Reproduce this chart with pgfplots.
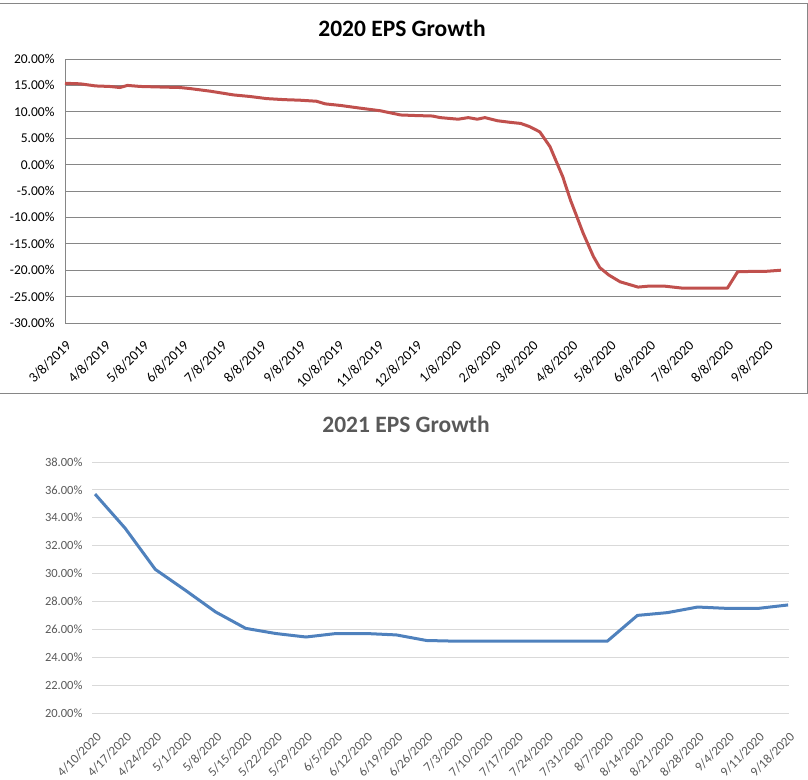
\documentclass[border=0pt]{standalone}
\usepackage{pgfplots}
\pgfplotsset{compat=1.18}
\usepackage{fontspec}
\setmainfont{Carlito}
\definecolor{redline}{HTML}{C0504D}
\definecolor{blueline}{HTML}{4F81BD}
\definecolor{darkgrid}{HTML}{868686}
\definecolor{lightgrid}{HTML}{D9D9D9}
\definecolor{txtgray}{HTML}{595959}
\begin{document}
\begin{tikzpicture}
\path[use as bounding box] (0,0) rectangle (808bp,-780bp);
\draw[darkgrid, line width=0.8bp] (-2bp,-3.5bp) rectangle (807bp,-393bp);
\node[anchor=base, font=\fontsize{23.5bp}{26bp}\selectfont\bfseries, text=black] at (402bp,-36bp) {2020 EPS Growth};
\node[anchor=base, font=\fontsize{23.5bp}{26bp}\selectfont\bfseries, text=txtgray] at (406bp,-432bp) {2021 EPS Growth};

\begin{axis}[
  at={(65bp,-323bp)}, anchor=south west, scale only axis,
  width=716bp, height=264bp,
  xmin=0, xmax=561, ymin=-30, ymax=20,
  axis x line*=bottom, axis y line*=left,
  axis line style={darkgrid, line width=0.8bp},
  ymajorgrids, major grid style={darkgrid, line width=0.8bp},
  major tick length=0pt,
  /pgf/number format/assume math mode=true,
  ytick={-30,-25,...,20},
  yticklabel={\pgfmathprintnumber[fixed,fixed zerofill,precision=2]{\tick}\%},
  yticklabel style={font=\fontsize{13.5bp}{15bp}\selectfont, text=black, xshift=-7bp},
  xtick={0,31,61,92,122,153,184,214,245,275,306,337,366,397,427,458,488,519,550},
  xticklabels={3/8/2019,4/8/2019,5/8/2019,6/8/2019,7/8/2019,8/8/2019,9/8/2019,10/8/2019,11/8/2019,12/8/2019,1/8/2020,2/8/2020,3/8/2020,4/8/2020,5/8/2020,6/8/2020,7/8/2020,8/8/2020,9/8/2020},
  xticklabel style={font=\fontsize{14bp}{16bp}\selectfont, text=black, rotate=45, anchor=north east, yshift=-8bp, xshift=-8bp},
  clip=false,
]
\addplot[redline, line width=3bp, line join=round] coordinates {
(0,15.4) (12,15.3) (24,14.9) (35,14.8) (43,14.6) (49,15.0) (59,14.8) (74,14.7)
(90,14.6) (98,14.4) (114,13.9) (132,13.2) (145,12.9) (158,12.5) (172,12.3)
(184,12.2) (197,12.0) (204,11.5) (216,11.2) (231,10.7) (247,10.2) (257,9.7)
(263,9.4) (274,9.3) (288,9.2) (294,8.9) (308,8.6) (316,8.9) (323,8.6) (329,8.9)
(339,8.3) (349,8.0) (357,7.8) (364,7.2) (372,6.2) (380,3.4) (390,-2.3)
(396,-6.7) (400,-9.2) (406,-13.0) (414,-17.4) (419,-19.5) (426,-20.9)
(435,-22.2) (449,-23.2) (458,-23.0) (469,-23.0) (484,-23.4) (519,-23.4)
(527,-20.3) (542,-20.2) (550,-20.2) (561,-20.0)
};
\end{axis}

\begin{axis}[
  at={(92bp,-713bp)}, anchor=south west, scale only axis,
  width=697bp, height=251bp,
  xmin=-0.1, xmax=23.03, ymin=20, ymax=38,
  axis line style={draw=none},
  ymajorgrids, major grid style={lightgrid, line width=0.8bp},
  major tick length=0pt,
  /pgf/number format/assume math mode=true,
  ytick={20,22,...,38},
  yticklabel={\pgfmathprintnumber[fixed,fixed zerofill,precision=2]{\tick}\%},
  yticklabel style={font=\fontsize{12.5bp}{14bp}\selectfont, text=txtgray, xshift=-6bp},
  xtick={0,...,23},
  xticklabels={4/10/2020,4/17/2020,4/24/2020,5/1/2020,5/8/2020,5/15/2020,5/22/2020,5/29/2020,6/5/2020,6/12/2020,6/19/2020,6/26/2020,7/3/2020,7/10/2020,7/17/2020,7/24/2020,7/31/2020,8/7/2020,8/14/2020,8/21/2020,8/28/2020,9/4/2020,9/11/2020,9/18/2020},
  xticklabel style={font=\fontsize{13bp}{15bp}\selectfont, text=txtgray, rotate=45, anchor=north east, yshift=-10bp, xshift=-9bp},
  clip=false,
]
\addplot[blueline, line width=3bp, line join=round] coordinates {
(0,35.7) (1,33.25) (2,30.3) (3,28.8) (4,27.25) (5,26.07) (6,25.7) (7,25.45)
(8,25.7) (9,25.7) (10,25.6) (11,25.2) (12,25.15) (13,25.15) (14,25.15)
(15,25.15) (16,25.15) (17,25.15) (18,27.0) (19,27.2) (20,27.6) (21,27.5)
(22,27.5) (23,27.75)
};
\end{axis}
\end{tikzpicture}
\end{document}
